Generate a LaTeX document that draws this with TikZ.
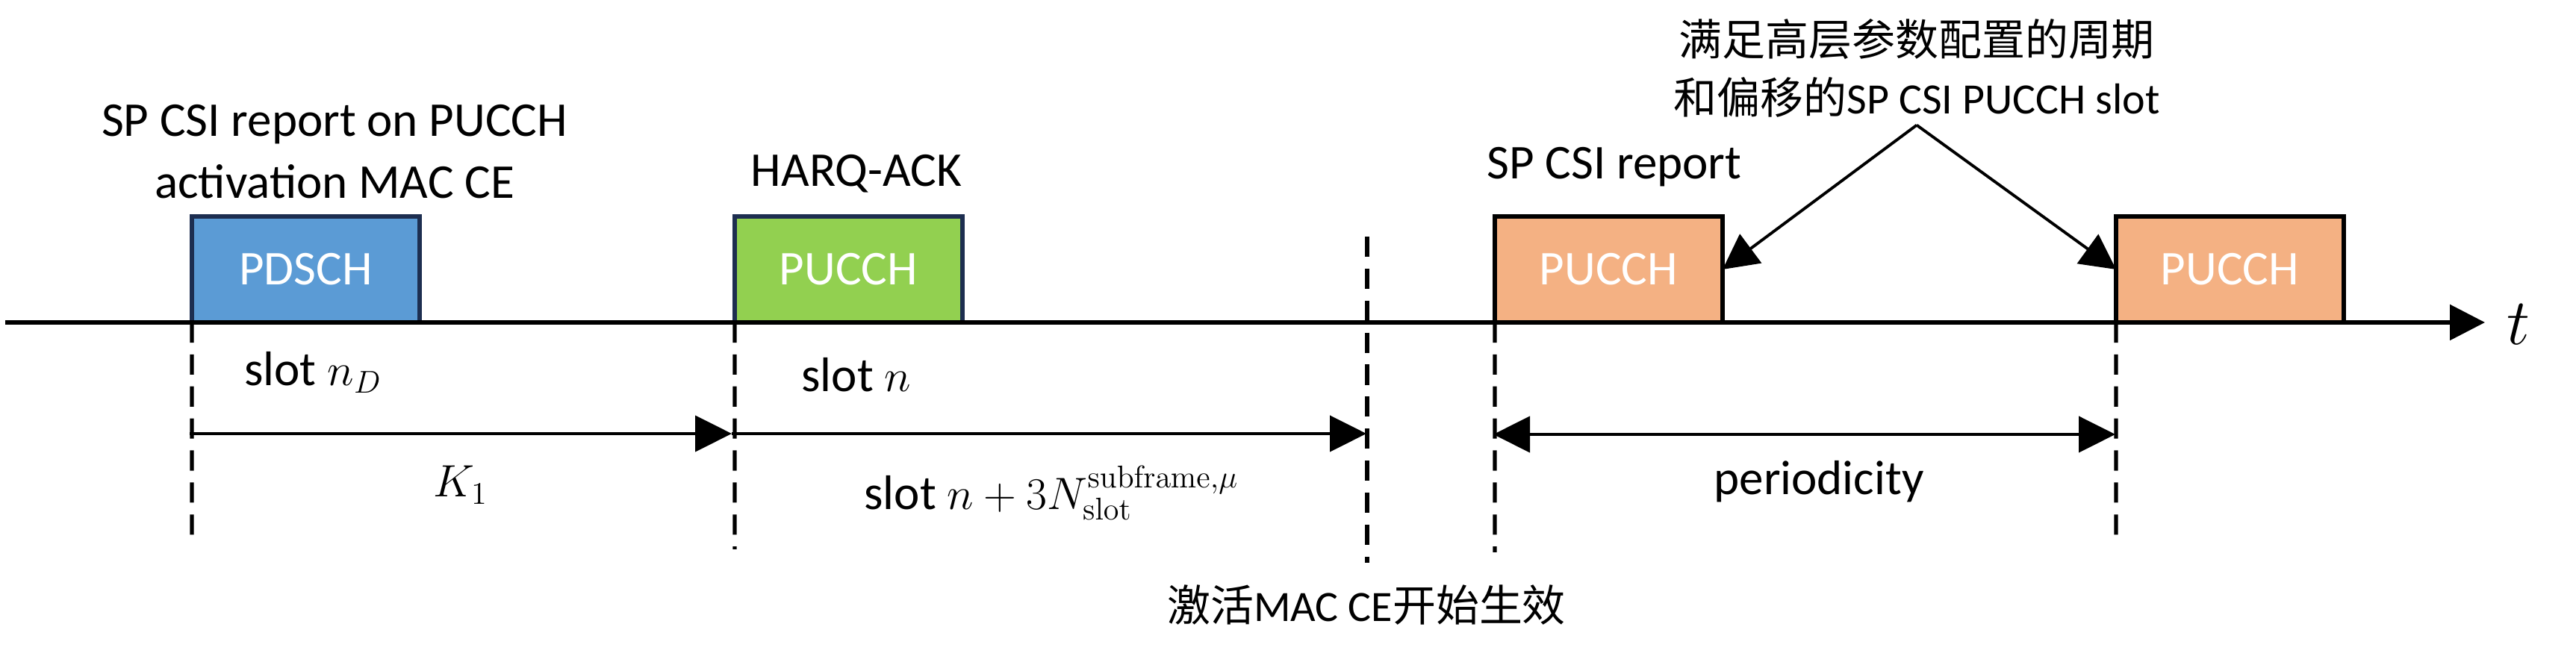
\documentclass[tikz,border=0pt]{standalone}
\usepackage[no-math]{fontspec}
\setmainfont{Carlito}
\newfontfamily\cjk{Noto Sans CJK SC}
\usepackage{tikz}
\usetikzlibrary{arrows.meta}
\usetikzlibrary{positioning}

\definecolor{pdschBlue}{RGB}{91,155,213}
\definecolor{ackGreen}{RGB}{146,208,80}
\definecolor{csiOrange}{RGB}{244,177,131}
\definecolor{boxNavy}{RGB}{29,46,80}

\begin{document}
\begin{tikzpicture}[scale=1]
\tikzset{
  slotBox/.style={
    rectangle,
                   draw,
                   line width=1.6pt,
                   outer sep=0pt,
                   minimum width=3.05cm,
                   minimum height=1.42cm,
                   text=white,
                   font=\fontsize{18.5}{22}\selectfont
    },
  labelText/.style={
    font=\fontsize{18.5}{23.6}\selectfont
    },
  cnText/.style={
    font=\fontsize{16.5}{22.2}\selectfont,
                   align=center
    },
  markLine/.style={
    line width=1.5pt,
                   dash pattern=on 7.7pt off 4.5pt
    },
  spanArrow/.style={
    line width=1.3pt,
                   >={Triangle[length=0.49cm, width=0.48cm]}
    }
}
    \useasboundingbox (0,0) rectangle (34.5,8.99);

    \node (pdsch)[slotBox, fill=pdschBlue, draw=boxNavy] at (4.095,5.38) {PDSCH};
    \node (ack)[slotBox, fill=ackGreen, draw=boxNavy] at (11.365,5.38) {PUCCH};
    \node (pucchA)[slotBox, fill=csiOrange, draw=black] at (21.545,5.38) {PUCCH};
    \node (pucchB)[slotBox, fill=csiOrange, draw=black] at (29.865,5.38) {PUCCH};

    \coordinate (tStart) at (0.07,4.67);
    \coordinate (tEnd) at (33.28,4.67);
    \draw[->, line width=1.6pt, >={Triangle[length=0.47cm, width=0.47cm]}] (tStart) -- (tEnd);
    \node (tLabel)[anchor=base, font=\fontsize{23}{26}\selectfont] at (33.73,4.37) {$t$};

    % dashed slot marks
    \coordinate (dD) at (2.57,1.73);
    \coordinate (dN) at (9.84,1.63);
    \coordinate (actTop) at (18.31,5.82);
    \coordinate (actBot) at (18.31,1.45);
    \coordinate (dA) at (20.02,1.59);
    \coordinate (dB) at (28.34,1.75);
    \draw[markLine] (pdsch.south west) -- (dD);
    \draw[markLine] (ack.south west) -- (dN);
    \draw[markLine] (actTop) -- (actBot);
    \draw[markLine] (pucchA.south west) -- (dA);
    \draw[markLine] (pucchB.south west) -- (dB);

    % spans
    \coordinate (kStart) at (2.54,3.18);
    \coordinate (kEnd) at (9.80,3.18);
    \coordinate (nEnd) at (18.30,3.18);
    \coordinate (pStart) at (20.00,3.17);
    \coordinate (pEnd) at (28.33,3.17);
    \draw[->, spanArrow] (kStart) -- (kEnd);
    \draw[->, spanArrow] (kEnd) -- (nEnd);
    \draw[<->, spanArrow] (pStart) -- (pEnd);

    \node (macLabel)[labelText, align=center] at (4.48,6.96) {SP CSI report on PUCCH\\activation MAC CE};
    \node (ackLabel)[labelText, anchor=base] at (11.47,6.49) {HARQ-ACK};
    \node (csiLabel)[labelText, anchor=base] at (21.62,6.59) {SP CSI report};
    \node (slotD)[labelText, anchor=base west] at (3.15,3.82) {slot $n_D$};
    \node (slotN)[labelText, anchor=base west] at (10.61,3.74) {slot $n$};
    \node (kLabel)[labelText, anchor=base] at (6.17,2.33) {$K_1$};
    \node (slotSum)[labelText, anchor=base west] at (11.45,2.16) {slot $n+3N_{\mathrm{slot}}^{\mathrm{subframe},\mu}$};
    \node (perLabel)[labelText, anchor=base] at (24.36,2.36) {periodicity};
    \node (actLabel)[cnText, anchor=base] at (18.30,0.66) {{\cjk 激活}MAC CE{\cjk 开始生效}};

    \node (cfg)[cnText, inner sep=0.1cm] at (25.67,8.08) {{\cjk 满足高层参数配置的周期}\\{\cjk 和偏移的}SP CSI PUCCH slot};
    \draw[->, line width=1.1pt, >={Triangle[length=0.47cm, width=0.48cm]}] (cfg.south) -- (pucchA.east);
    \draw[->, line width=1.1pt, >={Triangle[length=0.47cm, width=0.48cm]}] (cfg.south) -- (pucchB.west);

\end{tikzpicture}
\end{document}
